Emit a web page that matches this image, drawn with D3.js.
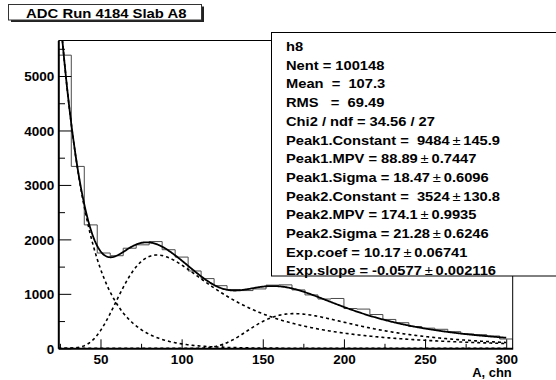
<!DOCTYPE html>
<html>
<head>
<meta charset="utf-8">
<script src="https://cdn.jsdelivr.net/npm/d3@7"></script>
<style>
  body { margin: 0; background: #fff; }
  svg { display: block; }
  text { font-family: "Liberation Sans", Arial, Helvetica, sans-serif; font-weight: bold; fill: #000; }
</style>
</head>
<body>
<svg id="chart" width="556" height="380"></svg>
<script>
// ---- histogram h8: lower bin edges (ADC channels) and bin contents ----
const binStarts = [24, 32, 40, 48, 56, 64, 72, 80, 88, 96, 104, 112, 120, 128, 136, 144, 152, 160,
                   168, 176, 184, 192, 200, 208, 216, 224, 232, 240, 248, 256, 264, 272, 280, 288, 296];
const binWidth = 8;
const counts = [5383, 3340, 2266, 1750, 1700, 1838, 1900, 1960, 1810, 1675, 1420, 1280, 1150, 1080,
                1060, 1090, 1160, 1165, 1072, 980, 905, 915, 730, 720, 620, 530, 470, 400, 370, 349,
                305, 265, 250, 226, 171];

// ---- axis ticks ----
const xTickValues = [50, 100, 150, 200, 250, 300];
const xMinorTicks = [25, 75, 125, 175, 225, 275];
const yTickValues = [0, 1000, 2000, 3000, 4000, 5000];
const yMinorTicks = [500, 1500, 2500, 3500, 4500, 5500];

// ---- labels ----
const titleText = "ADC Run 4184 Slab A8";
const xAxisTitle = "A, chn";

// ---- statistics and fit results (landau + landau + expo) ----
const histName = "h8";
const nEntries = 100148;
const histMean = "107.3";
const histRms = "69.49";
const chi2 = "34.56";
const ndf = 27;
const paramNames = ["Peak1.Constant", "Peak1.MPV", "Peak1.Sigma", "Peak2.Constant", "Peak2.MPV",
                    "Peak2.Sigma", "Exp.coef", "Exp.slope"];
const paramValues = [9484, 88.89, 18.47, 3524, 174.1, 21.28, 10.17, -0.0577];
const paramErrors = [145.9, 0.7447, 0.6096, 130.8, 0.9935, 0.6246, 0.06741, 0.002116];
const fitRange = [24, 300];

// Landau density (CERNLIB DENLAN, as used by TMath::Landau)
function landauPdf(v) {
  const p1 = [0.4259894875, -0.1249762550, 0.03984243700, -0.006298287635, 0.001511162253];
  const q1 = [1.0, -0.3388260629, 0.09594393323, -0.01608042283, 0.003778942063];
  const p2 = [0.1788541609, 0.1173957403, 0.01488850518, -0.001394989411, 0.0001283617211];
  const q2 = [1.0, 0.7428795082, 0.3153932961, 0.06694219548, 0.008790609714];
  const p3 = [0.1788544503, 0.09359161662, 0.006325387654, 0.00006611667319, -0.000002031049101];
  const q3 = [1.0, 0.6097809921, 0.2560616665, 0.04746722384, 0.006957301675];
  const p4 = [0.9874054407, 118.6723273, 849.2794360, -743.7792444, 427.0262186];
  const q4 = [1.0, 106.8615961, 337.6496214, 2016.712389, 1597.063511];
  const p5 = [1.003675074, 167.5702434, 4789.711289, 21217.86767, -22324.94910];
  const q5 = [1.0, 156.9424537, 3745.310488, 9834.698876, 66924.28357];
  const p6 = [1.000827619, 664.9143136, 62972.92665, 475554.6998, -5743609.109];
  const q6 = [1.0, 651.4101098, 56974.73333, 165917.4725, -2815759.939];
  const a1 = [0.04166666667, -0.01996527778, 0.02709538966];
  const a2 = [-1.845568670, -4.284640743];
  const poly = (c, t) => c[0] + (c[1] + (c[2] + (c[3] + c[4] * t) * t) * t) * t;
  let u;
  if (v < -5.5) {
    u = Math.exp(v + 1.0);
    if (u < 1e-10) return 0;
    return 0.3989422803 * (Math.exp(-1 / u) / Math.sqrt(u)) * (1 + (a1[0] + (a1[1] + a1[2] * u) * u) * u);
  } else if (v < -1) {
    u = Math.exp(-v - 1);
    return Math.exp(-u) * Math.sqrt(u) * poly(p1, v) / poly(q1, v);
  } else if (v < 1) {
    return poly(p2, v) / poly(q2, v);
  } else if (v < 5) {
    return poly(p3, v) / poly(q3, v);
  } else if (v < 12) {
    u = 1 / v; return u * u * poly(p4, u) / poly(q4, u);
  } else if (v < 50) {
    u = 1 / v; return u * u * poly(p5, u) / poly(q5, u);
  } else if (v < 300) {
    u = 1 / v; return u * u * poly(p6, u) / poly(q6, u);
  }
  u = 1 / (v - v * Math.log(v) / (v + 1));
  return u * u * (1 + (a2[0] + a2[1] * u) * u);
}

const [c1, mpv1, s1, c2, mpv2, s2, ec, es] = paramValues;
const peak1 = x => c1 * landauPdf((x - mpv1) / s1);
const peak2 = x => c2 * landauPdf((x - mpv2) / s2);
const expo = x => Math.exp(ec + es * x);
const total = x => peak1(x) + peak2(x) + expo(x);

// ---- layout ----
const svg = d3.select("#chart");
const frame = { left: 58.3, right: 512.7, top: 40.5, bottom: 348.3 };
const labelFont = "'Liberation Sans', Arial, sans-serif";

const x = d3.scaleLinear()
  .domain([binStarts[0], binStarts[binStarts.length - 1] + binWidth])
  .range([frame.left, frame.right]);
const y = d3.scaleLinear()
  .domain([0, 1.05 * d3.max(counts)])
  .range([frame.bottom, frame.top]);

svg.append("rect").attr("width", 556).attr("height", 380).attr("fill", "#fff");

svg.append("defs").append("clipPath").attr("id", "frameClip")
  .append("rect")
  .attr("x", frame.left).attr("y", frame.top)
  .attr("width", frame.right - frame.left).attr("height", frame.bottom - frame.top);

const plot = svg.append("g").attr("clip-path", "url(#frameClip)");

// histogram outline
const stepPts = [[binStarts[0], 0]];
binStarts.forEach((b, i) => stepPts.push([b, counts[i]]));
const lastEdge = binStarts[binStarts.length - 1] + binWidth;
stepPts.push([lastEdge, counts[counts.length - 1]]);
stepPts.push([lastEdge, 0]);
plot.append("path")
  .attr("d", d3.line().x(d => x(d[0])).y(d => y(d[1])).curve(d3.curveStepAfter)(stepPts))
  .attr("fill", "none")
  .attr("stroke", "#4a4a4a")
  .attr("stroke-width", 1);

// fit curves: the three components dashed, their sum solid
const xs = d3.range(fitRange[0], fitRange[1] + 0.001, 0.5);
const fitLine = f => d3.line().x(v => x(v)).y(v => y(f(v)))(xs);

[peak1, peak2, expo].forEach(f => {
  plot.append("path")
    .attr("d", fitLine(f))
    .attr("fill", "none")
    .attr("stroke", "#000")
    .attr("stroke-width", 1.6)
    .attr("stroke-dasharray", "3,3");
});
plot.append("path")
  .attr("d", fitLine(total))
  .attr("fill", "none")
  .attr("stroke", "#000")
  .attr("stroke-width", 1.8);

// frame (top/right)
svg.append("path")
  .attr("d", `M${frame.left},${frame.top}H${frame.right}V${frame.bottom}`)
  .attr("fill", "none").attr("stroke", "#000").attr("stroke-width", 1);

// x axis: ticks point into the frame
const xAxisG = svg.append("g").attr("transform", `translate(0,${frame.bottom})`);
xAxisG.call(d3.axisBottom(x).tickValues(xTickValues).tickFormat(d3.format("d"))
  .tickSize(-9).tickSizeOuter(0).tickPadding(0));
xAxisG.append("g").call(d3.axisBottom(x).tickValues(xMinorTicks).tickSize(-4.5).tickSizeOuter(0).tickFormat(""))
  .select(".domain").remove();
xAxisG.selectAll(".domain").attr("stroke-width", 2);
xAxisG.selectAll("text")
  .attr("dy", null).attr("y", 15.5)
  .style("font-family", labelFont)
  .style("font-weight", "bold").style("font-size", "13.5px").attr("fill", "#000");

// y axis
const yAxisG = svg.append("g").attr("transform", `translate(${frame.left},0)`);
yAxisG.call(d3.axisLeft(y).tickValues(yTickValues).tickFormat(d3.format("d"))
  .tickSize(-13).tickSizeOuter(0).tickPadding(4));
yAxisG.append("g").call(d3.axisLeft(y).tickValues(yMinorTicks).tickSize(-6.7).tickSizeOuter(0).tickFormat(""))
  .select(".domain").remove();
yAxisG.selectAll(".domain").attr("stroke-width", 2);
yAxisG.selectAll("text")
  .attr("dy", "0.36em")
  .style("font-family", labelFont)
  .style("font-weight", "bold").style("font-size", "13.5px").attr("fill", "#000");

// axis title
svg.append("text")
  .attr("transform", `translate(${frame.right - 1},377.4) scale(1.08,1)`)
  .attr("text-anchor", "end")
  .style("font-size", "12px")
  .text(xAxisTitle);

// ---- statistics box ----
const stats = svg.append("g");
stats.append("rect")
  .attr("x", 271.5).attr("y", 32.5).attr("width", 300).attr("height", 243.5)
  .attr("fill", "#fff").attr("stroke", "#000").attr("stroke-width", 1);

const statLines = [
  [histName],
  [`Nent = ${nEntries}`],
  [`Mean  =  ${histMean}`],
  [`RMS   =  ${histRms}`],
  [`Chi2 / ndf = ${chi2} / ${ndf}`]
];
paramNames.forEach((n, i) => {
  const pad = n.endsWith("Constant") ? "  " : " ";
  statLines.push([`${n} =${pad}${paramValues[i]}`, String(paramErrors[i])]);
});

statLines.forEach((ln, i) => {
  const t = stats.append("text")
    .attr("transform", `translate(286,${51 + i * 18.7}) scale(1.13,1)`)
    .attr("xml:space", "preserve")
    .style("white-space", "pre")
    .style("font-size", "13px");
  t.append("tspan").text(ln[0]);
  if (ln.length > 1) {
    t.append("tspan").attr("dx", 2.5).style("font-weight", "normal").text("\u00b1");
    t.append("tspan").attr("dx", 2.5).text(ln[1]);
  }
});

// ---- title box ----
const title = svg.append("g");
title.append("rect")
  .attr("x", 11).attr("y", 6.5).attr("width", 193).attr("height", 15.5)
  .attr("fill", "#222");
title.append("rect")
  .attr("x", 8.5).attr("y", 4.5).attr("width", 193).attr("height", 15.5)
  .attr("fill", "#fff").attr("stroke", "#333").attr("stroke-width", 1);
title.append("text")
  .attr("transform", "translate(106.3,18.2) scale(1.19,1)")
  .attr("text-anchor", "middle")
  .style("font-size", "12.5px")
  .text(titleText);
</script>
</body>
</html>
